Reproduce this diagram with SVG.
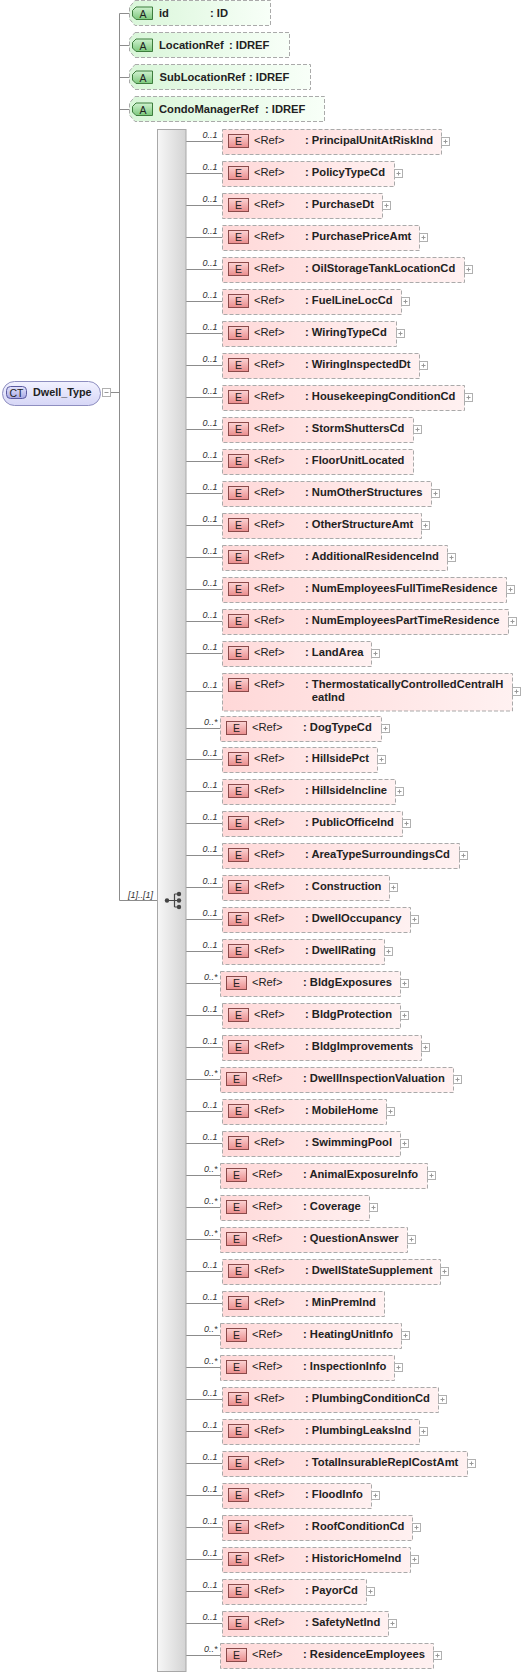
<svg xmlns="http://www.w3.org/2000/svg" xmlns:xlink="http://www.w3.org/1999/xlink" width="522" height="1677" viewBox="0 0 522 1677">
<style>
text{font-family:"Liberation Sans",Arial,sans-serif;fill:#222}
.nm{font-size:11.2px;font-weight:bold}
.ref{font-size:11.2px}
.occ{font-size:9px;font-style:italic;text-anchor:end;fill:#333}
.ic{font-size:10.5px;text-anchor:middle}
.box{fill:url(#gE);stroke:#aaa;stroke-dasharray:4 2}
.abox{fill:url(#gA);stroke:#aaa;stroke-dasharray:4 2}
.eib{fill:url(#gEi);stroke:#8a4a4a}
.aib{fill:url(#gAi);stroke:#3d7d3d}
.ln{fill:none;stroke:#8c8c8c}
.plb{fill:#fff;stroke:#b0b0b0}
.plm{fill:none;stroke:#999}
</style>
<defs>
<linearGradient id="gE" x1="0" y1="0" x2="1" y2="0"><stop offset="0" stop-color="#ffd8d8"/><stop offset="1" stop-color="#fff1f1"/></linearGradient>
<linearGradient id="gA" x1="0" y1="0" x2="1" y2="0"><stop offset="0" stop-color="#d9f6d9"/><stop offset="1" stop-color="#f8fff8"/></linearGradient>
<linearGradient id="gEi" x1="0" y1="0" x2="0" y2="1"><stop offset="0" stop-color="#fcd4d4"/><stop offset="1" stop-color="#ea8c8c"/></linearGradient>
<linearGradient id="gAi" x1="0" y1="0" x2="0" y2="1"><stop offset="0" stop-color="#d0f2d0"/><stop offset="1" stop-color="#7cc87c"/></linearGradient>
<linearGradient id="gBar" x1="0" y1="0" x2="1" y2="0"><stop offset="0" stop-color="#f7f7f7"/><stop offset="1" stop-color="#d3d3d3"/></linearGradient>
<linearGradient id="gCT" x1="0" y1="0" x2="0" y2="1"><stop offset="0" stop-color="#f2f2ff"/><stop offset="1" stop-color="#d6d6f6"/></linearGradient>
<linearGradient id="gCTi" x1="0" y1="0" x2="0" y2="1"><stop offset="0" stop-color="#e4e4fc"/><stop offset="1" stop-color="#a8a8e4"/></linearGradient>
<rect id="ei" class="eib" x="228.5" y="5.5" width="20" height="13"/>
<g id="pl"><rect class="plb" x="0.5" y="0.5" width="8" height="8"/><path class="plm" d="M2.5,4.5H6.5M4.5,2.5V6.5"/></g>
</defs>
<rect width="522" height="1677" fill="#fff"/>

<g id="connectors">
<path class="ln" d="M111,392.5H119.5M119.5,13.5V900.5H157M119.5,13.5H129.5M119.5,45.5H129.5M119.5,77.5H129.5M119.5,109.5H129.5"/>
<path class="ln" d="M186,141.5H222M186,173.5H222M186,205.5H222M186,237.5H222M186,269.5H222M186,301.5H222M186,333.5H222M186,365.5H222M186,397.5H222M186,429.5H222M186,461.5H222M186,493.5H222M186,525.5H222M186,557.5H222M186,589.5H222M186,621.5H222M186,653.5H222M186,691.5H222M186,728.5H220M186,759.5H222M186,791.5H222M186,823.5H222M186,855.5H222M186,887.5H222M186,919.5H222M186,951.5H222M186,983.5H220M186,1015.5H222M186,1047.5H222M186,1079.5H220M186,1111.5H222M186,1143.5H222M186,1175.5H220M186,1207.5H220M186,1239.5H220M186,1271.5H222M186,1303.5H222M186,1335.5H220M186,1367.5H220M186,1399.5H222M186,1431.5H222M186,1463.5H222M186,1495.5H222M186,1527.5H222M186,1559.5H222M186,1591.5H222M186,1623.5H222M186,1655.5H220"/>
<text class="occ" x="153" y="897.5">[1]..[1]</text>
</g>

<g id="ct">
<rect x="2.5" y="381.5" width="98" height="24" rx="12" fill="url(#gCT)" stroke="#8e8ec0"/>
<rect x="6.5" y="386.5" width="20" height="12" rx="4" fill="url(#gCTi)" stroke="#5a5aa0"/>
<text class="ic" x="16.5" y="396.5">CT</text>
<text class="nm" x="33" y="396" style="font-size:10.8px">Dwell_Type</text>
<rect class="plb" x="102.5" y="388.5" width="8" height="8"/>
<path class="plm" d="M104.5,392.5H108.5"/>
</g>

<g id="a1"><path class="abox" d="M135,0.5H270.5V25.5H135L129.5,19V7Z"/><path class="aib" d="M136,7H152.5V19.5H136L132.5,16V10.5Z"/><text class="ic" x="143" y="17.5">A</text><text class="nm" x="159" y="16.5">id</text><text class="nm" x="210" y="16.5">: ID</text></g>
<g id="a2" transform="translate(0,32)"><path class="abox" d="M135,0.5H289.5V25.5H135L129.5,19V7Z"/><path class="aib" d="M136,7H152.5V19.5H136L132.5,16V10.5Z"/><text class="ic" x="143" y="17.5">A</text><text class="nm" x="159" y="16.5">LocationRef</text><text class="nm" x="229" y="16.5">: IDREF</text></g>
<g id="a3" transform="translate(0,64)"><path class="abox" d="M135,0.5H310.5V25.5H135L129.5,19V7Z"/><path class="aib" d="M136,7H152.5V19.5H136L132.5,16V10.5Z"/><text class="ic" x="143" y="17.5">A</text><text class="nm" x="159.5" y="16.5">SubLocationRef</text><text class="nm" x="249" y="16.5">: IDREF</text></g>
<g id="a4" transform="translate(0,96)"><path class="abox" d="M135,0.5H324.5V25.5H135L129.5,19V7Z"/><path class="aib" d="M136,7H152.5V19.5H136L132.5,16V10.5Z"/><text class="ic" x="143" y="17.5">A</text><text class="nm" x="159" y="16.5">CondoManagerRef</text><text class="nm" x="265" y="16.5">: IDREF</text></g>

<g id="sequence">
<rect x="157.5" y="129.5" width="28.5" height="1542" fill="url(#gBar)" stroke="#a8a8a8"/>
<path d="M167,900.5H174.5M174.5,894V907M174.5,894H179M174.5,900.5H179M174.5,907H179" fill="none" stroke="#444" stroke-width="1.2"/>
<circle cx="167" cy="900.5" r="2.2" fill="#444"/><circle cx="179" cy="894" r="2.2" fill="#444"/><circle cx="179" cy="900.5" r="2.2" fill="#444"/><circle cx="179" cy="907" r="2.2" fill="#444"/>
</g>

<g id="e1" transform="translate(0,129)"><text class="occ" x="217.5" y="9">0..1</text><rect class="box" x="222.5" y="0.5" width="219" height="25"/><use href="#ei"/><text class="ic" x="238.5" y="16">E</text><text class="ref" x="254" y="15">&lt;Ref&gt;</text><text class="nm" x="305" y="15">: PrincipalUnitAtRiskInd</text><use href="#pl" x="441" y="8"/></g>
<g id="e2" transform="translate(0,161)"><text class="occ" x="217.5" y="9">0..1</text><rect class="box" x="222.5" y="0.5" width="172" height="25"/><use href="#ei"/><text class="ic" x="238.5" y="16">E</text><text class="ref" x="254" y="15">&lt;Ref&gt;</text><text class="nm" x="305" y="15">: PolicyTypeCd</text><use href="#pl" x="394" y="8"/></g>
<g id="e3" transform="translate(0,193)"><text class="occ" x="217.5" y="9">0..1</text><rect class="box" x="222.5" y="0.5" width="160" height="25"/><use href="#ei"/><text class="ic" x="238.5" y="16">E</text><text class="ref" x="254" y="15">&lt;Ref&gt;</text><text class="nm" x="305" y="15">: PurchaseDt</text><use href="#pl" x="382" y="8"/></g>
<g id="e4" transform="translate(0,225)"><text class="occ" x="217.5" y="9">0..1</text><rect class="box" x="222.5" y="0.5" width="197" height="25"/><use href="#ei"/><text class="ic" x="238.5" y="16">E</text><text class="ref" x="254" y="15">&lt;Ref&gt;</text><text class="nm" x="305" y="15">: PurchasePriceAmt</text><use href="#pl" x="419" y="8"/></g>
<g id="e5" transform="translate(0,257)"><text class="occ" x="217.5" y="9">0..1</text><rect class="box" x="222.5" y="0.5" width="242" height="25"/><use href="#ei"/><text class="ic" x="238.5" y="16">E</text><text class="ref" x="254" y="15">&lt;Ref&gt;</text><text class="nm" x="305" y="15">: OilStorageTankLocationCd</text><use href="#pl" x="464" y="8"/></g>
<g id="e6" transform="translate(0,289)"><text class="occ" x="217.5" y="9">0..1</text><rect class="box" x="222.5" y="0.5" width="179" height="25"/><use href="#ei"/><text class="ic" x="238.5" y="16">E</text><text class="ref" x="254" y="15">&lt;Ref&gt;</text><text class="nm" x="305" y="15">: FuelLineLocCd</text><use href="#pl" x="401" y="8"/></g>
<g id="e7" transform="translate(0,321)"><text class="occ" x="217.5" y="9">0..1</text><rect class="box" x="222.5" y="0.5" width="174" height="25"/><use href="#ei"/><text class="ic" x="238.5" y="16">E</text><text class="ref" x="254" y="15">&lt;Ref&gt;</text><text class="nm" x="305" y="15">: WiringTypeCd</text><use href="#pl" x="396" y="8"/></g>
<g id="e8" transform="translate(0,353)"><text class="occ" x="217.5" y="9">0..1</text><rect class="box" x="222.5" y="0.5" width="197" height="25"/><use href="#ei"/><text class="ic" x="238.5" y="16">E</text><text class="ref" x="254" y="15">&lt;Ref&gt;</text><text class="nm" x="305" y="15">: WiringInspectedDt</text><use href="#pl" x="419" y="8"/></g>
<g id="e9" transform="translate(0,385)"><text class="occ" x="217.5" y="9">0..1</text><rect class="box" x="222.5" y="0.5" width="242" height="25"/><use href="#ei"/><text class="ic" x="238.5" y="16">E</text><text class="ref" x="254" y="15">&lt;Ref&gt;</text><text class="nm" x="305" y="15">: HousekeepingConditionCd</text><use href="#pl" x="464" y="8"/></g>
<g id="e10" transform="translate(0,417)"><text class="occ" x="217.5" y="9">0..1</text><rect class="box" x="222.5" y="0.5" width="191" height="25"/><use href="#ei"/><text class="ic" x="238.5" y="16">E</text><text class="ref" x="254" y="15">&lt;Ref&gt;</text><text class="nm" x="305" y="15">: StormShuttersCd</text><use href="#pl" x="413" y="8"/></g>
<g id="e11" transform="translate(0,449)"><text class="occ" x="217.5" y="9">0..1</text><rect class="box" x="222.5" y="0.5" width="191" height="25"/><use href="#ei"/><text class="ic" x="238.5" y="16">E</text><text class="ref" x="254" y="15">&lt;Ref&gt;</text><text class="nm" x="305" y="15">: FloorUnitLocated</text></g>
<g id="e12" transform="translate(0,481)"><text class="occ" x="217.5" y="9">0..1</text><rect class="box" x="222.5" y="0.5" width="209" height="25"/><use href="#ei"/><text class="ic" x="238.5" y="16">E</text><text class="ref" x="254" y="15">&lt;Ref&gt;</text><text class="nm" x="305" y="15">: NumOtherStructures</text><use href="#pl" x="431" y="8"/></g>
<g id="e13" transform="translate(0,513)"><text class="occ" x="217.5" y="9">0..1</text><rect class="box" x="222.5" y="0.5" width="199" height="25"/><use href="#ei"/><text class="ic" x="238.5" y="16">E</text><text class="ref" x="254" y="15">&lt;Ref&gt;</text><text class="nm" x="305" y="15">: OtherStructureAmt</text><use href="#pl" x="421" y="8"/></g>
<g id="e14" transform="translate(0,545)"><text class="occ" x="217.5" y="9">0..1</text><rect class="box" x="222.5" y="0.5" width="225" height="25"/><use href="#ei"/><text class="ic" x="238.5" y="16">E</text><text class="ref" x="254" y="15">&lt;Ref&gt;</text><text class="nm" x="305" y="15">: AdditionalResidenceInd</text><use href="#pl" x="447" y="8"/></g>
<g id="e15" transform="translate(0,577)"><text class="occ" x="217.5" y="9">0..1</text><rect class="box" x="222.5" y="0.5" width="284" height="25"/><use href="#ei"/><text class="ic" x="238.5" y="16">E</text><text class="ref" x="254" y="15">&lt;Ref&gt;</text><text class="nm" x="305" y="15">: NumEmployeesFullTimeResidence</text><use href="#pl" x="506" y="8"/></g>
<g id="e16" transform="translate(0,609)"><text class="occ" x="217.5" y="9">0..1</text><rect class="box" x="222.5" y="0.5" width="286" height="25"/><use href="#ei"/><text class="ic" x="238.5" y="16">E</text><text class="ref" x="254" y="15">&lt;Ref&gt;</text><text class="nm" x="305" y="15">: NumEmployeesPartTimeResidence</text><use href="#pl" x="508" y="8"/></g>
<g id="e17" transform="translate(0,641)"><text class="occ" x="217.5" y="9">0..1</text><rect class="box" x="222.5" y="0.5" width="149" height="25"/><use href="#ei"/><text class="ic" x="238.5" y="16">E</text><text class="ref" x="254" y="15">&lt;Ref&gt;</text><text class="nm" x="305" y="15">: LandArea</text><use href="#pl" x="371" y="8"/></g>
<g id="e18" transform="translate(0,673)"><text class="occ" x="217.5" y="15">0..1</text><rect class="box" x="222.5" y="0.5" width="290" height="37.5"/><use href="#ei"/><text class="ic" x="238.5" y="16">E</text><text class="ref" x="254" y="15">&lt;Ref&gt;</text><text class="nm" x="305" y="15">: ThermostaticallyControlledCentralH</text><text class="nm" x="311.8" y="28">eatInd</text><use href="#pl" x="512" y="14"/></g>
<g id="e19" transform="translate(-2,716)"><text class="occ" x="219.5" y="9">0..*</text><rect class="box" x="222.5" y="0.5" width="161" height="25"/><use href="#ei"/><text class="ic" x="238.5" y="16">E</text><text class="ref" x="254" y="15">&lt;Ref&gt;</text><text class="nm" x="305" y="15">: DogTypeCd</text><use href="#pl" x="383" y="8"/></g>
<g id="e20" transform="translate(0,747)"><text class="occ" x="217.5" y="9">0..1</text><rect class="box" x="222.5" y="0.5" width="155" height="25"/><use href="#ei"/><text class="ic" x="238.5" y="16">E</text><text class="ref" x="254" y="15">&lt;Ref&gt;</text><text class="nm" x="305" y="15">: HillsidePct</text><use href="#pl" x="377" y="8"/></g>
<g id="e21" transform="translate(0,779)"><text class="occ" x="217.5" y="9">0..1</text><rect class="box" x="222.5" y="0.5" width="173" height="25"/><use href="#ei"/><text class="ic" x="238.5" y="16">E</text><text class="ref" x="254" y="15">&lt;Ref&gt;</text><text class="nm" x="305" y="15">: HillsideIncline</text><use href="#pl" x="395" y="8"/></g>
<g id="e22" transform="translate(0,811)"><text class="occ" x="217.5" y="9">0..1</text><rect class="box" x="222.5" y="0.5" width="180" height="25"/><use href="#ei"/><text class="ic" x="238.5" y="16">E</text><text class="ref" x="254" y="15">&lt;Ref&gt;</text><text class="nm" x="305" y="15">: PublicOfficeInd</text><use href="#pl" x="402" y="8"/></g>
<g id="e23" transform="translate(0,843)"><text class="occ" x="217.5" y="9">0..1</text><rect class="box" x="222.5" y="0.5" width="237" height="25"/><use href="#ei"/><text class="ic" x="238.5" y="16">E</text><text class="ref" x="254" y="15">&lt;Ref&gt;</text><text class="nm" x="305" y="15">: AreaTypeSurroundingsCd</text><use href="#pl" x="459" y="8"/></g>
<g id="e24" transform="translate(0,875)"><text class="occ" x="217.5" y="9">0..1</text><rect class="box" x="222.5" y="0.5" width="167" height="25"/><use href="#ei"/><text class="ic" x="238.5" y="16">E</text><text class="ref" x="254" y="15">&lt;Ref&gt;</text><text class="nm" x="305" y="15">: Construction</text><use href="#pl" x="389" y="8"/></g>
<g id="e25" transform="translate(0,907)"><text class="occ" x="217.5" y="9">0..1</text><rect class="box" x="222.5" y="0.5" width="188" height="25"/><use href="#ei"/><text class="ic" x="238.5" y="16">E</text><text class="ref" x="254" y="15">&lt;Ref&gt;</text><text class="nm" x="305" y="15">: DwellOccupancy</text><use href="#pl" x="410" y="8"/></g>
<g id="e26" transform="translate(0,939)"><text class="occ" x="217.5" y="9">0..1</text><rect class="box" x="222.5" y="0.5" width="162" height="25"/><use href="#ei"/><text class="ic" x="238.5" y="16">E</text><text class="ref" x="254" y="15">&lt;Ref&gt;</text><text class="nm" x="305" y="15">: DwellRating</text><use href="#pl" x="384" y="8"/></g>
<g id="e27" transform="translate(-2,971)"><text class="occ" x="219.5" y="9">0..*</text><rect class="box" x="222.5" y="0.5" width="180" height="25"/><use href="#ei"/><text class="ic" x="238.5" y="16">E</text><text class="ref" x="254" y="15">&lt;Ref&gt;</text><text class="nm" x="305" y="15">: BldgExposures</text><use href="#pl" x="402" y="8"/></g>
<g id="e28" transform="translate(0,1003)"><text class="occ" x="217.5" y="9">0..1</text><rect class="box" x="222.5" y="0.5" width="178" height="25"/><use href="#ei"/><text class="ic" x="238.5" y="16">E</text><text class="ref" x="254" y="15">&lt;Ref&gt;</text><text class="nm" x="305" y="15">: BldgProtection</text><use href="#pl" x="400" y="8"/></g>
<g id="e29" transform="translate(0,1035)"><text class="occ" x="217.5" y="9">0..1</text><rect class="box" x="222.5" y="0.5" width="199" height="25"/><use href="#ei"/><text class="ic" x="238.5" y="16">E</text><text class="ref" x="254" y="15">&lt;Ref&gt;</text><text class="nm" x="305" y="15">: BldgImprovements</text><use href="#pl" x="421" y="8"/></g>
<g id="e30" transform="translate(-2,1067)"><text class="occ" x="219.5" y="9">0..*</text><rect class="box" x="222.5" y="0.5" width="233" height="25"/><use href="#ei"/><text class="ic" x="238.5" y="16">E</text><text class="ref" x="254" y="15">&lt;Ref&gt;</text><text class="nm" x="305" y="15">: DwellInspectionValuation</text><use href="#pl" x="455" y="8"/></g>
<g id="e31" transform="translate(0,1099)"><text class="occ" x="217.5" y="9">0..1</text><rect class="box" x="222.5" y="0.5" width="164" height="25"/><use href="#ei"/><text class="ic" x="238.5" y="16">E</text><text class="ref" x="254" y="15">&lt;Ref&gt;</text><text class="nm" x="305" y="15">: MobileHome</text><use href="#pl" x="386" y="8"/></g>
<g id="e32" transform="translate(0,1131)"><text class="occ" x="217.5" y="9">0..1</text><rect class="box" x="222.5" y="0.5" width="178" height="25"/><use href="#ei"/><text class="ic" x="238.5" y="16">E</text><text class="ref" x="254" y="15">&lt;Ref&gt;</text><text class="nm" x="305" y="15">: SwimmingPool</text><use href="#pl" x="400" y="8"/></g>
<g id="e33" transform="translate(-2,1163)"><text class="occ" x="219.5" y="9">0..*</text><rect class="box" x="222.5" y="0.5" width="207" height="25"/><use href="#ei"/><text class="ic" x="238.5" y="16">E</text><text class="ref" x="254" y="15">&lt;Ref&gt;</text><text class="nm" x="305" y="15">: AnimalExposureInfo</text><use href="#pl" x="429" y="8"/></g>
<g id="e34" transform="translate(-2,1195)"><text class="occ" x="219.5" y="9">0..*</text><rect class="box" x="222.5" y="0.5" width="149" height="25"/><use href="#ei"/><text class="ic" x="238.5" y="16">E</text><text class="ref" x="254" y="15">&lt;Ref&gt;</text><text class="nm" x="305" y="15">: Coverage</text><use href="#pl" x="371" y="8"/></g>
<g id="e35" transform="translate(-2,1227)"><text class="occ" x="219.5" y="9">0..*</text><rect class="box" x="222.5" y="0.5" width="187" height="25"/><use href="#ei"/><text class="ic" x="238.5" y="16">E</text><text class="ref" x="254" y="15">&lt;Ref&gt;</text><text class="nm" x="305" y="15">: QuestionAnswer</text><use href="#pl" x="409" y="8"/></g>
<g id="e36" transform="translate(0,1259)"><text class="occ" x="217.5" y="9">0..1</text><rect class="box" x="222.5" y="0.5" width="218" height="25"/><use href="#ei"/><text class="ic" x="238.5" y="16">E</text><text class="ref" x="254" y="15">&lt;Ref&gt;</text><text class="nm" x="305" y="15">: DwellStateSupplement</text><use href="#pl" x="440" y="8"/></g>
<g id="e37" transform="translate(0,1291)"><text class="occ" x="217.5" y="9">0..1</text><rect class="box" x="222.5" y="0.5" width="162" height="25"/><use href="#ei"/><text class="ic" x="238.5" y="16">E</text><text class="ref" x="254" y="15">&lt;Ref&gt;</text><text class="nm" x="305" y="15">: MinPremInd</text></g>
<g id="e38" transform="translate(-2,1323)"><text class="occ" x="219.5" y="9">0..*</text><rect class="box" x="222.5" y="0.5" width="181" height="25"/><use href="#ei"/><text class="ic" x="238.5" y="16">E</text><text class="ref" x="254" y="15">&lt;Ref&gt;</text><text class="nm" x="305" y="15">: HeatingUnitInfo</text><use href="#pl" x="403" y="8"/></g>
<g id="e39" transform="translate(-2,1355)"><text class="occ" x="219.5" y="9">0..*</text><rect class="box" x="222.5" y="0.5" width="174" height="25"/><use href="#ei"/><text class="ic" x="238.5" y="16">E</text><text class="ref" x="254" y="15">&lt;Ref&gt;</text><text class="nm" x="305" y="15">: InspectionInfo</text><use href="#pl" x="396" y="8"/></g>
<g id="e40" transform="translate(0,1387)"><text class="occ" x="217.5" y="9">0..1</text><rect class="box" x="222.5" y="0.5" width="216" height="25"/><use href="#ei"/><text class="ic" x="238.5" y="16">E</text><text class="ref" x="254" y="15">&lt;Ref&gt;</text><text class="nm" x="305" y="15">: PlumbingConditionCd</text><use href="#pl" x="438" y="8"/></g>
<g id="e41" transform="translate(0,1419)"><text class="occ" x="217.5" y="9">0..1</text><rect class="box" x="222.5" y="0.5" width="197" height="25"/><use href="#ei"/><text class="ic" x="238.5" y="16">E</text><text class="ref" x="254" y="15">&lt;Ref&gt;</text><text class="nm" x="305" y="15">: PlumbingLeaksInd</text><use href="#pl" x="419" y="8"/></g>
<g id="e42" transform="translate(0,1451)"><text class="occ" x="217.5" y="9">0..1</text><rect class="box" x="222.5" y="0.5" width="245" height="25"/><use href="#ei"/><text class="ic" x="238.5" y="16">E</text><text class="ref" x="254" y="15">&lt;Ref&gt;</text><text class="nm" x="305" y="15">: TotalInsurableReplCostAmt</text><use href="#pl" x="467" y="8"/></g>
<g id="e43" transform="translate(0,1483)"><text class="occ" x="217.5" y="9">0..1</text><rect class="box" x="222.5" y="0.5" width="149" height="25"/><use href="#ei"/><text class="ic" x="238.5" y="16">E</text><text class="ref" x="254" y="15">&lt;Ref&gt;</text><text class="nm" x="305" y="15">: FloodInfo</text><use href="#pl" x="371" y="8"/></g>
<g id="e44" transform="translate(0,1515)"><text class="occ" x="217.5" y="9">0..1</text><rect class="box" x="222.5" y="0.5" width="190" height="25"/><use href="#ei"/><text class="ic" x="238.5" y="16">E</text><text class="ref" x="254" y="15">&lt;Ref&gt;</text><text class="nm" x="305" y="15">: RoofConditionCd</text><use href="#pl" x="412" y="8"/></g>
<g id="e45" transform="translate(0,1547)"><text class="occ" x="217.5" y="9">0..1</text><rect class="box" x="222.5" y="0.5" width="188" height="25"/><use href="#ei"/><text class="ic" x="238.5" y="16">E</text><text class="ref" x="254" y="15">&lt;Ref&gt;</text><text class="nm" x="305" y="15">: HistoricHomeInd</text><use href="#pl" x="410" y="8"/></g>
<g id="e46" transform="translate(0,1579)"><text class="occ" x="217.5" y="9">0..1</text><rect class="box" x="222.5" y="0.5" width="144" height="25"/><use href="#ei"/><text class="ic" x="238.5" y="16">E</text><text class="ref" x="254" y="15">&lt;Ref&gt;</text><text class="nm" x="305" y="15">: PayorCd</text><use href="#pl" x="366" y="8"/></g>
<g id="e47" transform="translate(0,1611)"><text class="occ" x="217.5" y="9">0..1</text><rect class="box" x="222.5" y="0.5" width="166" height="25"/><use href="#ei"/><text class="ic" x="238.5" y="16">E</text><text class="ref" x="254" y="15">&lt;Ref&gt;</text><text class="nm" x="305" y="15">: SafetyNetInd</text><use href="#pl" x="388" y="8"/></g>
<g id="e48" transform="translate(-2,1643)"><text class="occ" x="219.5" y="9">0..*</text><rect class="box" x="222.5" y="0.5" width="213" height="25"/><use href="#ei"/><text class="ic" x="238.5" y="16">E</text><text class="ref" x="254" y="15">&lt;Ref&gt;</text><text class="nm" x="305" y="15">: ResidenceEmployees</text><use href="#pl" x="435" y="8"/></g>
</svg>
